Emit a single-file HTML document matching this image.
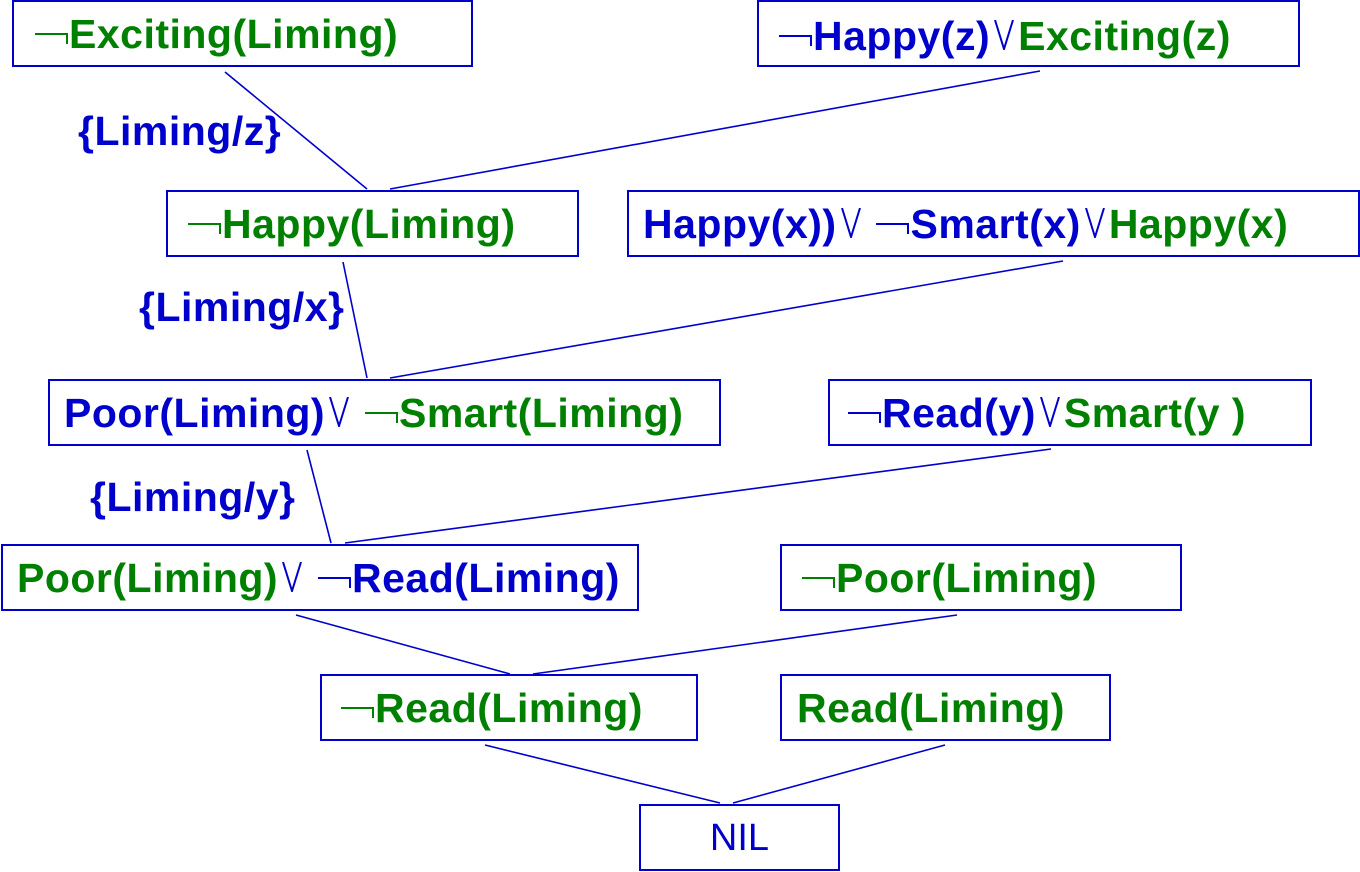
<!DOCTYPE html>
<html><head><meta charset="utf-8"><style>
body{margin:0;width:1360px;height:872px;background:#fff;position:relative;overflow:hidden;font-family:"Liberation Sans",Arial,sans-serif}
.b{position:absolute;border:2px solid #0000cc;box-sizing:border-box;height:67px}
.t{position:absolute;font-weight:bold;font-size:41px;line-height:40px;white-space:nowrap;letter-spacing:0.5px}
.g{color:#008000}.u{color:#0000cc}
.n{font-weight:normal;font-size:38px;letter-spacing:0}
.neg{display:inline-block;width:31px;height:9px;border-top:2px solid currentColor;border-right:2px solid currentColor;vertical-align:4px;margin-right:1px}
.or{display:inline-block;width:22px;height:30px;vertical-align:0;margin:0 3px}
svg.l{position:absolute;left:0;top:0}
</style></head><body>
<svg class="l" width="1360" height="872"><g stroke="#0000cc" stroke-width="1.6">
<line x1="225" y1="72" x2="367" y2="189"/><line x1="1040" y1="71" x2="390" y2="189"/>
<line x1="343" y1="262" x2="367" y2="378"/><line x1="1063" y1="261" x2="390" y2="378"/>
<line x1="307" y1="450" x2="331" y2="543"/><line x1="1051" y1="449" x2="345" y2="543"/>
<line x1="296" y1="615" x2="510" y2="674"/><line x1="957" y1="615" x2="533" y2="674"/>
<line x1="485" y1="745" x2="720" y2="803"/><line x1="945" y1="745" x2="733" y2="803"/>
</g></svg>
<div class="b" style="left:12px;top:0;width:461px"></div>
<div class="b" style="left:757px;top:0;width:543px"></div>
<div class="b" style="left:166px;top:190px;width:413px"></div>
<div class="b" style="left:627px;top:190px;width:733px"></div>
<div class="b" style="left:48px;top:379px;width:673px"></div>
<div class="b" style="left:828px;top:379px;width:484px"></div>
<div class="b" style="left:1px;top:544px;width:638px"></div>
<div class="b" style="left:780px;top:544px;width:402px"></div>
<div class="b" style="left:320px;top:674px;width:378px"></div>
<div class="b" style="left:780px;top:674px;width:331px"></div>
<div class="b" style="left:639px;top:804px;width:201px"></div>

<div class="t g" style="left:35px;top:14px"><span class="neg"></span>Exciting(Liming)</div>
<div class="t" style="left:779px;top:16px"><span class="u"><span class="neg"></span>Happy(z)<svg class="or" viewBox="0 0 22 30"><polyline points="2,0 11,29 20,0" fill="none" stroke="#0000cc" stroke-width="2"/></svg></span><span class="g">Exciting(z)</span></div>
<div class="t u" style="left:78px;top:111px">{Liming/z}</div>
<div class="t g" style="left:188px;top:204px"><span class="neg"></span>Happy(Liming)</div>
<div class="t" style="left:643px;top:204px"><span class="u">Happy(x))<svg class="or" viewBox="0 0 22 30"><polyline points="2,0 11,29 20,0" fill="none" stroke="#0000cc" stroke-width="2"/></svg> <span class="neg"></span>Smart(x)<svg class="or" viewBox="0 0 22 30"><polyline points="2,0 11,29 20,0" fill="none" stroke="#0000cc" stroke-width="2"/></svg></span><span class="g">Happy(x)</span></div>
<div class="t u" style="left:139px;top:287px">{Liming/x}</div>
<div class="t" style="left:64px;top:393px"><span class="u">Poor(Liming)<svg class="or" viewBox="0 0 22 30"><polyline points="2,0 11,29 20,0" fill="none" stroke="#0000cc" stroke-width="2"/></svg></span> <span class="g"><span class="neg"></span>Smart(Liming)</span></div>
<div class="t" style="left:848px;top:393px"><span class="u"><span class="neg"></span>Read(y)<svg class="or" viewBox="0 0 22 30"><polyline points="2,0 11,29 20,0" fill="none" stroke="#0000cc" stroke-width="2"/></svg></span><span class="g">Smart(y )</span></div>
<div class="t u" style="left:90px;top:477px">{Liming/y}</div>
<div class="t" style="left:17px;top:558px"><span class="g">Poor(Liming)<svg class="or" viewBox="0 0 22 30"><polyline points="2,0 11,29 20,0" fill="none" stroke="#0000cc" stroke-width="2"/></svg></span> <span class="u"><span class="neg"></span>Read(Liming)</span></div>
<div class="t g" style="left:802px;top:558px"><span class="neg"></span>Poor(Liming)</div>
<div class="t g" style="left:341px;top:688px"><span class="neg"></span>Read(Liming)</div>
<div class="t g" style="left:797px;top:688px">Read(Liming)</div>
<div class="t u n" style="left:639px;top:818px;width:201px;text-align:center">NIL</div>
</body></html>
